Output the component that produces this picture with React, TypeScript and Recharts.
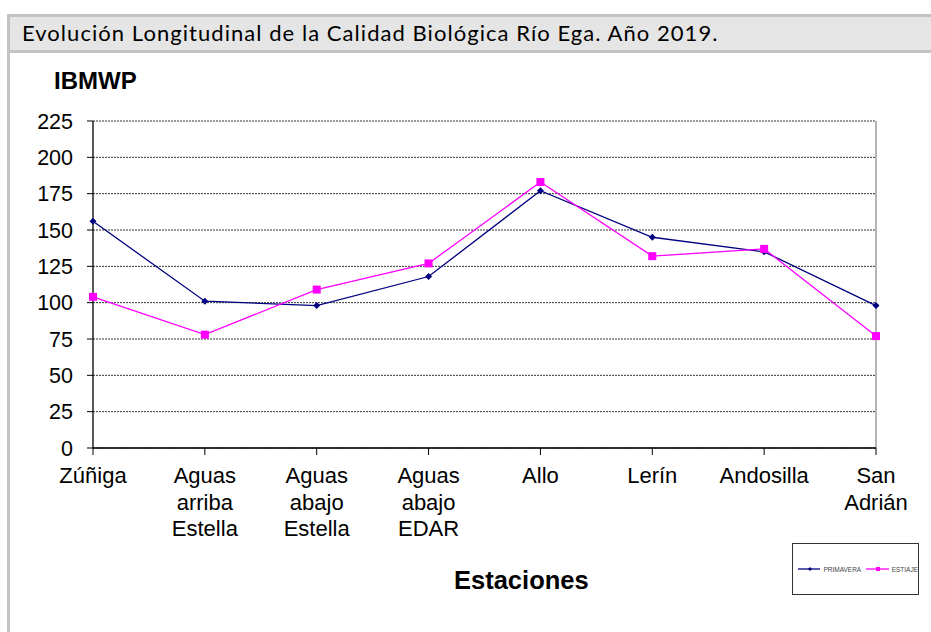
import { LineChart, Line, XAxis, YAxis, CartesianGrid, ReferenceLine, Legend } from 'recharts'

const stations = [
  'Zúñiga',
  'Aguas\narriba\nEstella',
  'Aguas\nabajo\nEstella',
  'Aguas\nabajo\nEDAR',
  'Allo',
  'Lerín',
  'Andosilla',
  'San\nAdrián',
]
const primavera = [156, 101, 98, 118, 177, 145, 135, 98]
const estiaje = [104, 78, 109, 127, 183, 132, 137, 77]
const yTicks = [0, 25, 50, 75, 100, 125, 150, 175, 200, 225]

const data = stations.map((s, i) => ({ station: s, primavera: primavera[i], estiaje: estiaje[i] }))

const ARIAL = '"Liberation Sans", Arial, sans-serif'

const Diamond = (props: any) => {
  const { cx, cy } = props
  if (cx == null || cy == null) return null
  const r = 3.5
  return <path d={`M${cx},${cy - r}L${cx + r},${cy}L${cx},${cy + r}L${cx - r},${cy}Z`} fill="#000080" />
}

const Square = (props: any) => {
  const { cx, cy } = props
  if (cx == null || cy == null) return null
  return <rect x={cx - 4} y={cy - 4} width={8} height={8} fill="#ff00ff" />
}

// multi-line category labels
const StationTick = (props: any) => {
  const { x, y, payload } = props
  const lines = String(payload.value).split('\n')
  return (
    <text x={x} y={y} textAnchor="middle" fontFamily={ARIAL} fontSize={22} fill="#000">
      {lines.map((l, i) => (
        <tspan key={i} x={x} dy={i === 0 ? 26 : 26.5}>{l}</tspan>
      ))}
    </text>
  )
}

const LegendBox = () => (
  <div style={{ width: 125, height: 50, border: '1px solid #333', background: '#fff', display: 'flex', alignItems: 'center', fontFamily: ARIAL, fontSize: 6.5, color: '#444' }}>
    <svg width={24} height={6} style={{ marginLeft: 5 }}>
      <line x1={0} y1={3} x2={24} y2={3} stroke="#000080" strokeWidth={1.3} />
      <path d="M12,1L14,3L12,5L10,3Z" fill="#000080" />
    </svg>
    <span style={{ marginLeft: 3 }}>PRIMAVERA</span>
    <svg width={24} height={6} style={{ marginLeft: 5 }}>
      <line x1={0} y1={3} x2={24} y2={3} stroke="#ff00ff" strokeWidth={1.3} />
      <rect x={10} y={1} width={4} height={4} fill="#ff00ff" />
    </svg>
    <span style={{ marginLeft: 3 }}>ESTIAJE</span>
  </div>
)

export default function App() {
  return (
    <div style={{ position: 'absolute', left: 0, top: 0, width: 931, height: 632, overflow: 'hidden', background: '#fff' }}>
      <div style={{ position: 'absolute', left: 7, top: 14, width: 940, height: 640, border: '3px solid #c3c3c3', boxSizing: 'border-box' }} />
      <div style={{ position: 'absolute', left: 10, top: 17, width: 930, height: 33, background: '#e5e5e5', borderBottom: '3px solid #c3c3c3' }} />
      <div style={{ position: 'absolute', left: 22, top: 19, fontFamily: 'Lato, "Open Sans", sans-serif', fontSize: 22, letterSpacing: 1.05, color: '#000', whiteSpace: 'nowrap' }}>
        Evolución Longitudinal de la Calidad Biológica Río Ega. Año 2019.
      </div>
      <div style={{ position: 'absolute', left: 54, top: 67, fontFamily: ARIAL, fontWeight: 'bold', fontSize: 24, color: '#000' }}>IBMWP</div>
      <div style={{ position: 'absolute', left: 454, top: 566, fontFamily: ARIAL, fontWeight: 'bold', fontSize: 25.5, color: '#000' }}>Estaciones</div>
      <div style={{ position: 'absolute', left: 0, top: 0 }}>
        <LineChart width={931} height={632} data={data} margin={{ top: 121, right: 55, bottom: 124, left: 33 }}>
          <CartesianGrid vertical={false} stroke="#333" strokeDasharray="2 1" />
          <XAxis
            dataKey="station"
            height={60}
            interval={0}
            tick={<StationTick />}
            tickSize={7}
            axisLine={{ stroke: '#000', strokeWidth: 1.3 }}
            tickLine={{ stroke: '#000' }}
          />
          <YAxis
            width={60}
            domain={[0, 225]}
            ticks={yTicks}
            interval={0}
            tickSize={6}
            tickMargin={14}
            axisLine={{ stroke: '#000', strokeWidth: 1.3 }}
            tickLine={{ stroke: '#000' }}
            tick={{ fill: '#000', fontSize: 21.5, fontFamily: ARIAL }}
          />
          <ReferenceLine x={stations[stations.length - 1]} stroke="#b5b5b5" strokeWidth={2} />
          <Legend
            verticalAlign="middle"
            align="center"
            content={<LegendBox />}
            wrapperStyle={{ position: 'absolute', left: 792, top: 543, width: 127, height: 52 }}
          />
          <Line
            type="linear"
            dataKey="primavera"
            name="PRIMAVERA"
            stroke="#000080"
            strokeWidth={1.3}
            dot={<Diamond />}
            activeDot={false}
            isAnimationActive={false}
          />
          <Line
            type="linear"
            dataKey="estiaje"
            name="ESTIAJE"
            stroke="#ff00ff"
            strokeWidth={1.3}
            dot={<Square />}
            activeDot={false}
            isAnimationActive={false}
          />
        </LineChart>
      </div>
    </div>
  )
}
